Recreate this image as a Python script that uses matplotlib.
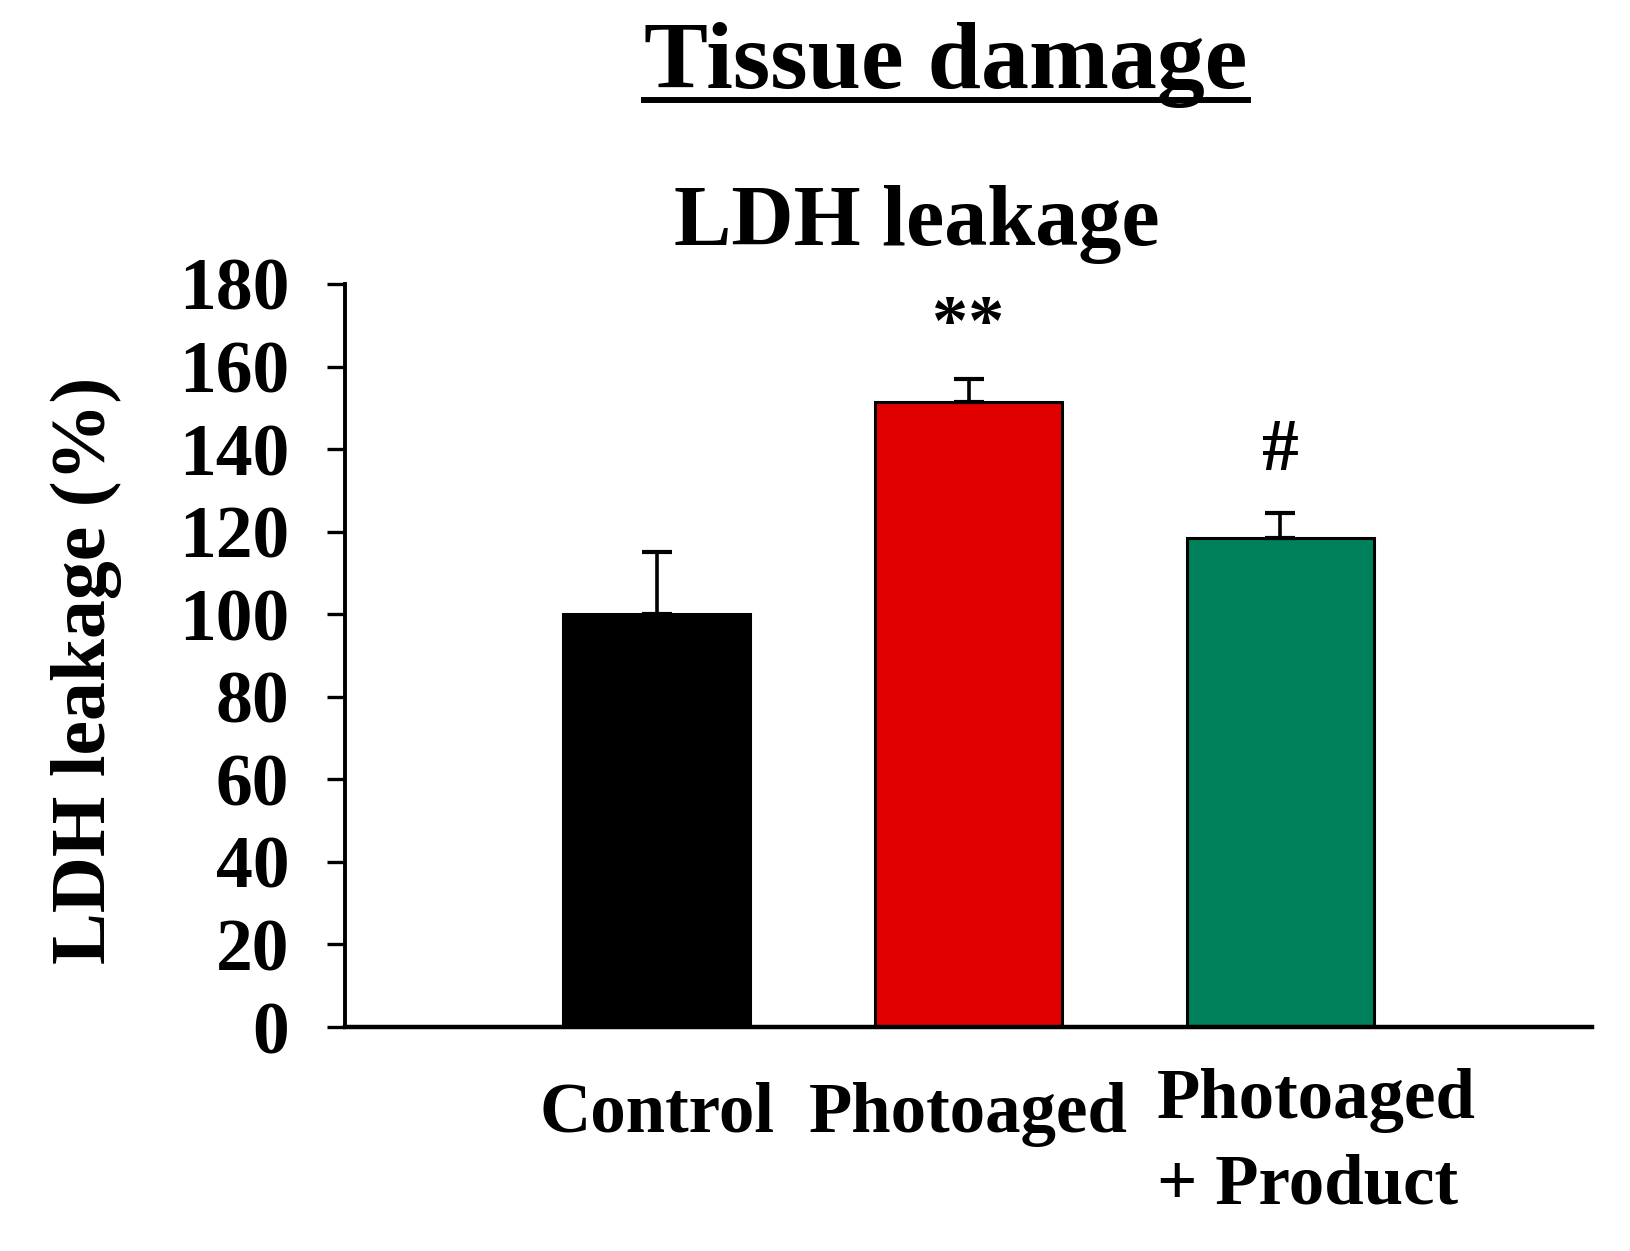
import matplotlib
matplotlib.use("Agg")
import matplotlib.pyplot as plt
from matplotlib.lines import Line2D
import matplotlib.transforms as mtransforms

plt.rcParams['font.family'] = ['Liberation Serif', 'DejaVu Serif']
plt.rcParams['font.weight'] = 'bold'

# ---- data ----
categories = ["Control", "Photoaged", "Photoaged\n+ Product"]
values = [100.0, 151.5, 118.5]
errors = [15.0, 5.5, 6.0]
colors = ["#000000", "#E00000", "#00805B"]
annotations = ["", "**", "#"]
yticks = [0, 20, 40, 60, 80, 100, 120, 140, 160, 180]
title = "Tissue damage"
subtitle = "LDH leakage"
ylabel = "LDH leakage (%)"

W, H, DPI = 1630, 1251, 100
fig = plt.figure(figsize=(W / DPI, H / DPI), dpi=DPI)
ax = fig.add_axes([345 / W, 1 - 1027 / H, (1592 - 345) / W, (1027 - 284) / H])

x = list(range(len(categories)))
ax.bar(x, values, width=0.6, color=colors, edgecolor="black", linewidth=2.2, zorder=2)
ax.errorbar(x, values, yerr=[[0] * len(errors), errors], fmt="none", ecolor="black",
            elinewidth=2.6, capsize=11, capthick=3, zorder=3)

ax.set_xlim(-1, 3)
ax.set_ylim(0, 180)
ax.set_yticks(yticks)
ax.set_yticklabels([str(t) for t in yticks], fontsize=53, fontweight="bold")
ax.tick_params(axis="y", direction="out", length=13, width=2.4, pad=27)
ax.set_xticks([])
for s in ["top", "right"]:
    ax.spines[s].set_visible(False)
ax.spines["left"].set_linewidth(2.8)
ax.spines["bottom"].set_linewidth(3.2)
ax.spines["bottom"].set_bounds(-1, 3)

# significance markers
ann_pos = {1: 326, 2: 452}
for i, a in enumerate(annotations):
    if a:
        ypix = ann_pos[i]
        trans = mtransforms.blended_transform_factory(ax.transData, fig.transFigure)
        ax.text(i, 1 - ypix / H, a, transform=trans, ha="center", va="center",
                fontsize=52 if a == "**" else 53, fontweight="bold")

# category labels
trans = mtransforms.blended_transform_factory(ax.transData, fig.transFigure)
lab_fs = 51
ax.text(0, 1 - 1132 / H, categories[0], transform=trans, ha="center", va="baseline",
        fontsize=lab_fs, fontweight="bold")
ax.text(1, 1 - 1132 / H, categories[1], transform=trans, ha="center", va="baseline",
        fontsize=lab_fs, fontweight="bold")
l1, l2 = categories[2].split("\n")
ax.text(1.605, 1 - 1118 / H, l1, transform=trans, ha="left", va="baseline",
        fontsize=lab_fs, fontweight="bold")
ax.text(1.605, 1 - 1203 / H, l2, transform=trans, ha="left", va="baseline",
        fontsize=lab_fs, fontweight="bold")

# y label
fig.text(86 / W, 1 - 670 / H, ylabel, rotation=90, ha="center", va="center",
         fontsize=56, fontweight="bold")

# titles
t = fig.text(946 / W, 1 - 88 / H, title, ha="center", va="baseline",
             fontsize=69, fontweight="bold")
fig.text(917 / W, 1 - 245 / H, subtitle, ha="center", va="baseline",
         fontsize=62, fontweight="bold")

fig.canvas.draw()
bb = t.get_window_extent()
uy = 1 - 100 / H
fig.add_artist(Line2D([bb.x0 / W, bb.x1 / W], [uy, uy], transform=fig.transFigure,
                      color="black", linewidth=4.3))

fig.savefig("out.png", dpi=DPI)
